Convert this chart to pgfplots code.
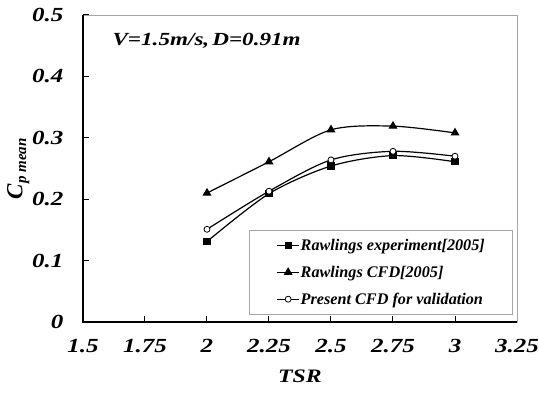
\documentclass[border=0pt]{standalone}
\usepackage{fontspec}
\setmainfont{Liberation Serif}
\newfontfamily\wide{Liberation Serif}[FakeStretch=1.25]
\usepackage{pgfplots}
\pgfplotsset{compat=1.18}
\begin{document}
\begin{tikzpicture}
\begin{axis}[
  scale only axis, width=434pt, height=307pt,
  xmin=1.5, xmax=3.25, ymin=0, ymax=0.5,
  xtick={1.5,1.75,2,2.25,2.5,2.75,3,3.25},
  ytick={0,0.1,0.2,0.3,0.4,0.5},
  xticklabels={1.5,1.75,2,2.25,2.5,2.75,3,3.25},
  yticklabels={0,0.1,0.2,0.3,0.4,0.5},
  xtick pos=bottom, ytick pos=left, tick align=inside,
  major tick length=6pt,
  tick style={black, line width=1pt},
  axis line style={gray!70, line width=0.6pt},
  ticklabel style={font=\wide\fontsize{20}{20}\selectfont\bfseries\itshape},
  xticklabel style={yshift=-14pt},
  yticklabel style={xshift=-16pt},
  xlabel={TSR},
  xlabel style={font=\wide\fontsize{19}{19}\selectfont\bfseries\itshape, yshift=-10pt},
  ylabel={C\textsubscript{\fontsize{15}{15}\selectfont p mean}},
  ylabel style={font=\fontsize{23}{23}\selectfont\bfseries\itshape, yshift=-4pt},
  legend style={at={(rel axis cs:0.991,0.023)}, anchor=south east,
    draw=gray!70, line width=0.6pt,
    font=\fontsize{16.2}{16.2}\selectfont\bfseries\itshape,
    row sep=10pt, inner xsep=27pt, inner ysep=7pt,
    nodes={inner xsep=1pt}},
  legend cell align=left,
  legend image code/.code={\draw[#1] (0pt,0pt) -- (22pt,0pt); \draw[#1, mark repeat=1] plot coordinates {(11pt,0pt)};},
  clip=false,
]
\addplot[black, line width=1.2pt, smooth, tension=0.5, mark=square*, mark size=3pt, mark options={solid, fill=black}]
coordinates {(2,0.131) (2.25,0.209) (2.5,0.254) (2.75,0.271) (3,0.261)};
\addlegendentry{Rawlings experiment[2005]}
\addplot[black, line width=1.2pt, smooth, tension=0.5, mark=triangle*, mark size=4pt, mark options={solid, fill=black}]
coordinates {(2,0.210) (2.25,0.261) (2.5,0.313) (2.75,0.319) (3,0.308)};
\addlegendentry{Rawlings CFD[2005]}
\addplot[black, line width=1.2pt, smooth, tension=0.5, mark=*, mark size=3pt, mark options={solid, fill=white, line width=0.8pt}]
coordinates {(2,0.151) (2.25,0.213) (2.5,0.264) (2.75,0.278) (3,0.270)};
\addlegendentry{Present CFD for validation}
\node[anchor=west, font=\wide\fontsize{18.5}{18.5}\selectfont\bfseries\itshape] at (rel axis cs:0.06,0.915) {V=1.5m/s,\,D=0.91m};
\draw[black, line width=1.3pt] (rel axis cs:0,1) -- (rel axis cs:0,0) -- (rel axis cs:1,0);
\coordinate (ll) at (rel axis cs:0,0);
\coordinate (ur) at (rel axis cs:1,1);
\end{axis}
\pgfresetboundingbox
\path ([shift={(-83pt,-72pt)}]ll) rectangle ([shift={(22pt,15pt)}]ur);
\end{tikzpicture}
\end{document}
